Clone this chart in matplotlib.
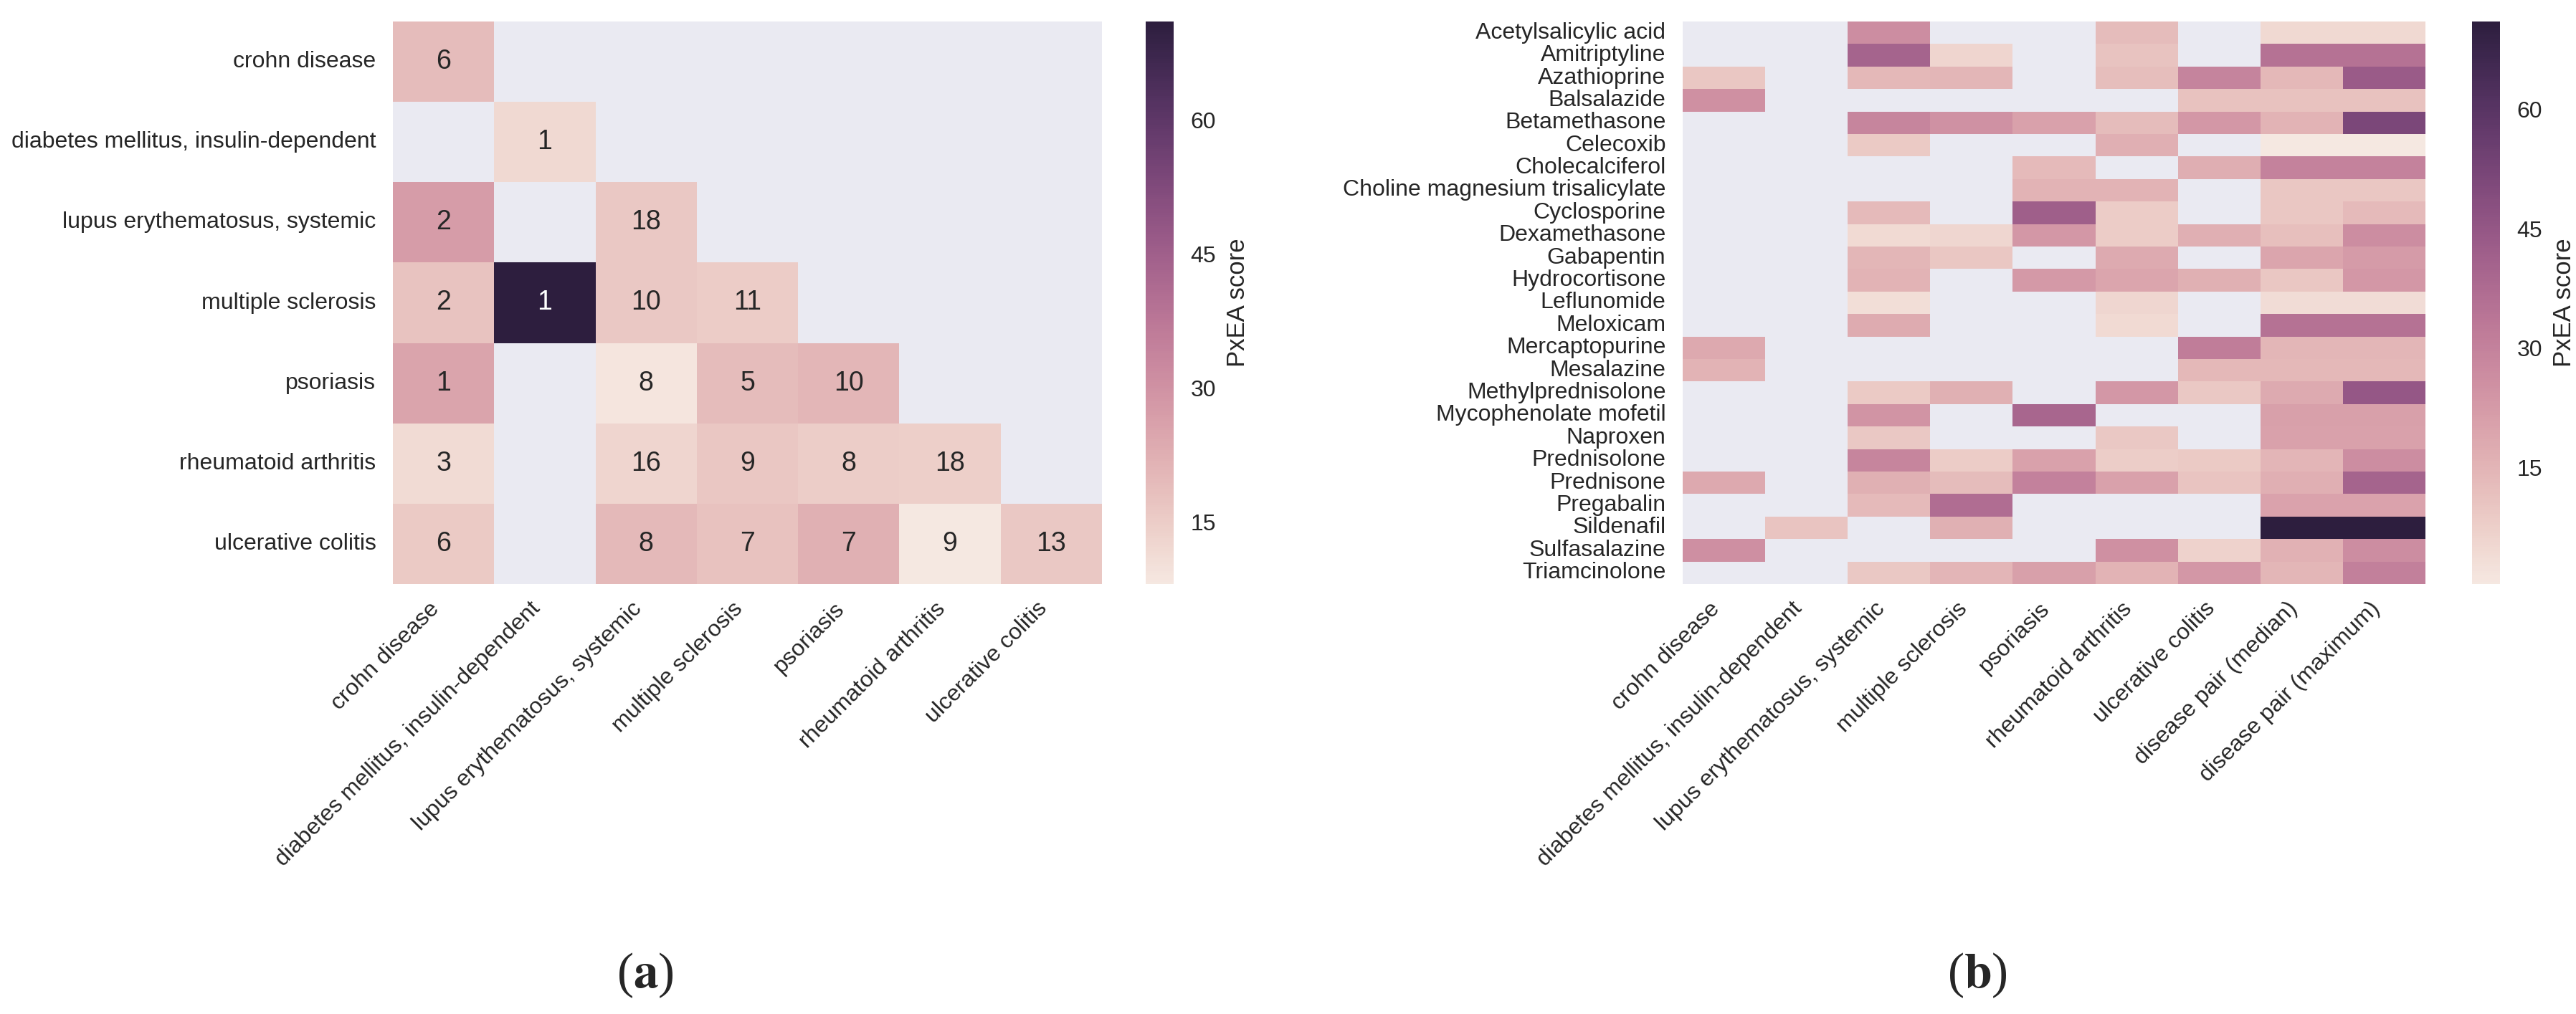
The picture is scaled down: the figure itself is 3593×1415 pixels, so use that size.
import numpy as np
import pandas as pd
import matplotlib
matplotlib.use("Agg")
import matplotlib.pyplot as plt
import seaborn as sns

nan = np.nan

diseases = ["crohn disease", "diabetes mellitus, insulin-dependent",
            "lupus erythematosus, systemic", "multiple sclerosis",
            "psoriasis", "rheumatoid arthritis", "ulcerative colitis"]

# (a) disease x disease: PxEA score (colour) and number of drugs (annotation)
pair_scores = [
    [19.3, nan, nan, nan, nan, nan, nan],
    [nan, 11.8, nan, nan, nan, nan, nan],
    [27.3, nan, 16.0, nan, nan, nan, nan],
    [17.5, 71.0, 16.0, 15.3, nan, nan, nan],
    [25.4, nan, 8.6, 19.3, 20.7, nan, nan],
    [11.3, nan, 13.1, 16.6, 14.9, 14.6, nan],
    [15.8, nan, 20.0, 17.8, 22.3, 8.1, 16.3],
]
pair_counts = [
    [6, None, None, None, None, None, None],
    [None, 1, None, None, None, None, None],
    [2, None, 18, None, None, None, None],
    [2, 1, 10, 11, None, None, None],
    [1, None, 8, 5, 10, None, None],
    [3, None, 16, 9, 8, 18, None],
    [6, None, 8, 7, 7, 9, 13],
]

# (b) drug x disease
drugs = ["Acetylsalicylic acid", "Amitriptyline", "Azathioprine", "Balsalazide",
         "Betamethasone", "Celecoxib", "Cholecalciferol",
         "Choline magnesium trisalicylate", "Cyclosporine", "Dexamethasone",
         "Gabapentin", "Hydrocortisone", "Leflunomide", "Meloxicam",
         "Mercaptopurine", "Mesalazine", "Methylprednisolone",
         "Mycophenolate mofetil", "Naproxen", "Prednisolone", "Prednisone",
         "Pregabalin", "Sildenafil", "Sulfasalazine", "Triamcinolone"]
drug_columns = diseases + ["disease pair (median)", "disease pair (maximum)"]
drug_scores = [
    [nan, nan, 26.5, nan, nan, 13.0, nan, 4.8, 4.8],
    [nan, nan, 40.0, 6.0, nan, 10.8, nan, 35.3, 35.3],
    [10.0, nan, 14.0, 14.5, nan, 12.5, 29.5, 14.1, 43.2],
    [25.5, nan, nan, nan, nan, nan, 11.3, 11.3, 11.3],
    [nan, nan, 29.0, 25.0, 20.3, 13.0, 23.5, 15.7, 51.5],
    [nan, nan, 9.0, nan, nan, 16.5, nan, 0.4, 0.4],
    [nan, nan, nan, nan, 13.5, nan, 17.0, 29.8, 29.8],
    [nan, nan, nan, nan, 15.5, 15.5, nan, 9.9, 9.9],
    [nan, nan, 13.6, nan, 42.0, 8.5, nan, 9.9, 13.6],
    [nan, nan, 4.5, 5.5, 23.5, 8.5, 16.5, 12.2, 26.5],
    [nan, nan, 14.5, 10.0, nan, 18.0, nan, 19.6, 22.4],
    [nan, nan, 15.5, nan, 23.0, 19.6, 16.3, 9.9, 23.3],
    [nan, nan, 3.5, nan, nan, 5.5, nan, 3.9, 3.9],
    [nan, nan, 17.5, nan, nan, 4.5, nan, 35.3, 35.3],
    [18.5, nan, nan, nan, nan, nan, 31.5, 14.5, 14.5],
    [15.5, nan, nan, nan, nan, nan, 14.0, 14.0, 14.0],
    [nan, nan, 9.0, 16.3, nan, 23.5, 9.5, 17.8, 44.8],
    [nan, nan, 24.5, nan, 39.5, nan, nan, 21.0, 21.0],
    [nan, nan, 9.5, nan, nan, 9.3, nan, 20.8, 20.8],
    [nan, nan, 29.0, 8.5, 20.3, 8.0, 9.0, 14.8, 26.5],
    [18.5, nan, 16.3, 13.0, 30.0, 20.3, 10.5, 16.4, 39.9],
    [nan, nan, 13.6, 37.0, nan, nan, nan, 20.1, 20.1],
    [nan, 10.5, nan, 16.3, nan, nan, nan, 71.0, 71.0],
    [26.0, nan, nan, nan, nan, 25.5, 6.5, 16.0, 26.5],
    [nan, nan, 9.5, 15.0, 21.0, 15.7, 23.5, 14.3, 30.7],
]
cbar_ticks = [15, 30, 45, 60]

sns.set_style("darkgrid")
plt.rcParams["font.family"] = ["Liberation Sans", "DejaVu Sans"]
plt.rcParams["mathtext.fontset"] = "stix"
plt.rcParams["axes.grid"] = False
plt.rcParams["xtick.labelsize"] = 23
plt.rcParams["ytick.labelsize"] = 23
plt.rcParams["axes.labelsize"] = 25
plt.rcParams["xtick.major.pad"] = 14
plt.rcParams["ytick.major.pad"] = 17

cmap = sns.cubehelix_palette(light=.92, as_cmap=True)

W, H = 3593, 1415
fig = plt.figure(figsize=(W / 100, H / 100), dpi=100)


def box(x0, x1, y0=30, y1=815):
    return [x0 / W, 1 - y1 / H, (x1 - x0) / W, (y1 - y0) / H]


ax1 = fig.add_axes(box(548, 1537))
cax1 = fig.add_axes(box(1598, 1637))
ax2 = fig.add_axes(box(2347, 3383))
cax2 = fig.add_axes(box(3448, 3487))

# panel a
df_a = pd.DataFrame(pair_scores, index=diseases, columns=diseases)
annot_a = np.array([["" if c is None else str(c) for c in row] for row in pair_counts])
sns.heatmap(df_a, ax=ax1, cbar_ax=cax1, cmap=cmap, mask=df_a.isnull(),
            annot=annot_a, fmt="", annot_kws={"size": 27},
            cbar_kws={"ticks": cbar_ticks})
ax1.set_yticklabels(ax1.get_yticklabels(), rotation=0)
ax1.set_xticklabels(ax1.get_xticklabels(), rotation=45, ha="right")

# panel b
df_b = pd.DataFrame(drug_scores, index=drugs, columns=drug_columns)
sns.heatmap(df_b, ax=ax2, cbar_ax=cax2, cmap=cmap, mask=df_b.isnull(),
            cbar_kws={"ticks": cbar_ticks})
ax2.set_yticks(np.arange(len(drugs)) + 0.5)
ax2.set_yticklabels(drugs, rotation=0)
ax2.set_xticklabels(ax2.get_xticklabels(), rotation=45, ha="right")

for ax in (ax1, ax2):
    ax.grid(False)
    ax.tick_params(length=0)

for c in (cax1, cax2):
    c.tick_params(length=0, pad=17, labelsize=23)
    c.set_ylabel("PxEA score", fontsize=25, labelpad=10)

fig.text(900 / W, 1 - 1361 / H, r"($\mathbf{a}$)", ha="center", va="center",
         fontsize=50, family="Liberation Serif")
fig.text(2758 / W, 1 - 1361 / H, r"($\mathbf{b}$)", ha="center", va="center",
         fontsize=50, family="Liberation Serif")

fig.savefig("out.png", dpi=100)
